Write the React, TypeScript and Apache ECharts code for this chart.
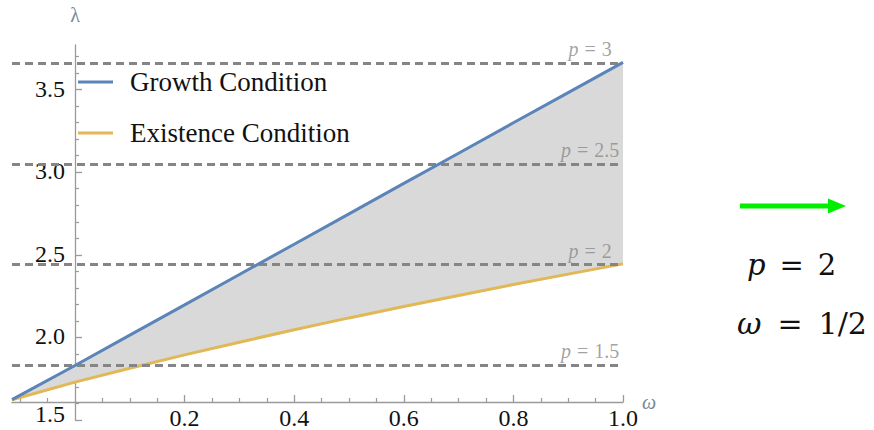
import React, { useEffect, useRef } from "react";
import * as echarts from "echarts";

// ---- data ----
const OMEGA = [-0.115, 0, 0.1, 0.2, 0.3, 0.4, 0.5, 0.6, 0.7, 0.8, 0.9, 1.0];
const GROWTH = [1.623, 1.83, 2.014, 2.197, 2.381, 2.564, 2.748, 2.932, 3.115, 3.299, 3.482, 3.665];
const EXISTENCE = [1.623, 1.729, 1.813, 1.894, 1.971, 2.046, 2.118, 2.187, 2.254, 2.32, 2.383, 2.445];

const P_VALUES = [1.5, 2, 2.5, 3];
const P_LAMBDA = [1.833, 2.439, 3.051, 3.664];

const X_MAJOR = [0.2, 0.4, 0.6, 0.8, 1.0];
const X_MINOR = [-0.1, -0.05, 0.05, 0.1, 0.15, 0.25, 0.3, 0.35, 0.45, 0.5, 0.55, 0.65, 0.7, 0.75, 0.85, 0.9, 0.95];
const Y_MAJOR = [1.5, 2.0, 2.5, 3.0, 3.5];
const Y_MINOR = [1.6, 1.7, 1.8, 1.9, 2.1, 2.2, 2.3, 2.4, 2.6, 2.7, 2.8, 2.9, 3.1, 3.2, 3.3, 3.4, 3.6, 3.7];

const LEGEND_NAMES = ["Growth Condition", "Existence Condition"];

const X_MIN = -0.115;
const X_MAX = 1.0;
const Y_MIN = 1.5;
const Y_MAX = 3.77;
const P_LABEL_OMEGA = 0.94;

const BLUE = "#5b84b8";
const YELLOW = "#e2b755";
const AXIS = "#9a9a9a";
const SERIF = "'Liberation Serif', 'Times New Roman', serif";
const MATH = "'DejaVu Serif', serif";

// plot geometry
const PLOT_LEFT = 12;
const PLOT_WIDTH = 611;
const PLOT_TOP = 45;
const PLOT_HEIGHT = 375;
const ZERO_X = PLOT_LEFT + ((0 - X_MIN) / (X_MAX - X_MIN)) * PLOT_WIDTH;

export default function App() {
  const ref = useRef<HTMLDivElement>(null);

  useEffect(() => {
    document.body.style.margin = "0";
    const chart = echarts.init(ref.current!, null, { renderer: "svg" });

    const growthData = OMEGA.map((w, i) => [w, GROWTH[i]]);
    const existData = OMEGA.map((w, i) => [w, EXISTENCE[i]]);

    const option: any = {
      animation: false,
      backgroundColor: "#ffffff",
      grid: [
        { left: PLOT_LEFT, top: PLOT_TOP, width: PLOT_WIDTH, height: PLOT_HEIGHT, containLabel: false, outerBoundsMode: "none" },
        { left: PLOT_LEFT, top: 300, width: PLOT_WIDTH, height: 102, containLabel: false, outerBoundsMode: "none" },
        { left: ZERO_X, top: PLOT_TOP, width: PLOT_LEFT + PLOT_WIDTH - ZERO_X, height: PLOT_HEIGHT, containLabel: false, outerBoundsMode: "none" },
      ],
      legend: {
        data: LEGEND_NAMES.map((n) => ({ name: n, icon: "rect" })),
        orient: "vertical",
        left: 78,
        top: 67,
        padding: 0,
        itemWidth: 35,
        itemHeight: 3,
        itemGap: 21,
        textStyle: {
          fontFamily: SERIF,
          fontSize: 27,
          color: "#111",
          lineHeight: 30,
          padding: [0, 0, 0, 12],
        },
      },
      xAxis: [
        { gridIndex: 0, type: "value", min: X_MIN, max: X_MAX, show: false, axisLine: { onZero: false } },
        {
          gridIndex: 1,
          type: "value",
          min: X_MIN,
          max: X_MAX,
          position: "bottom",
          name: "ω",
          nameLocation: "end",
          nameGap: 14,
          nameTextStyle: { fontFamily: SERIF, fontStyle: "italic", fontSize: 20, color: "#7a8699", padding: [0, 0, 6, 0] },
          axisLine: { onZero: false, lineStyle: { color: AXIS, width: 1.3 } },
          axisTick: { inside: true, length: 7, customValues: X_MAJOR, lineStyle: { color: AXIS, width: 1.3 } },
          axisLabel: {
            customValues: X_MAJOR,
            formatter: (v: number) => v.toFixed(1),
            fontFamily: SERIF,
            fontSize: 24,
            lineHeight: 20,
            color: "#111",
            margin: 6,
          },
          splitLine: { show: false },
        },
        {
          gridIndex: 1,
          type: "value",
          min: X_MIN,
          max: X_MAX,
          position: "bottom",
          axisLine: { show: false, onZero: false },
          axisTick: { inside: true, length: 4, customValues: X_MINOR, lineStyle: { color: AXIS, width: 1.2 } },
          axisLabel: { show: false },
          splitLine: { show: false },
        },
        { gridIndex: 2, type: "value", min: 0, max: 1, show: false, axisLine: { onZero: false } },
      ],
      yAxis: [
        { gridIndex: 0, type: "value", min: Y_MIN, max: Y_MAX, show: false, axisLine: { onZero: false } },
        { gridIndex: 1, type: "value", min: 0, max: 1, show: false, axisLine: { onZero: false } },
        {
          gridIndex: 2,
          type: "value",
          min: Y_MIN,
          max: Y_MAX,
          position: "left",
          name: "λ",
          nameLocation: "end",
          nameGap: 20,
          nameTextStyle: { fontFamily: SERIF, fontSize: 20, color: "#7a8699" },
          axisLine: { onZero: false, lineStyle: { color: AXIS, width: 1.3 } },
          axisTick: { inside: true, length: 7, customValues: Y_MAJOR, lineStyle: { color: AXIS, width: 1.3 } },
          axisLabel: {
            customValues: Y_MAJOR,
            formatter: (v: number) => (v === Y_MIN ? `{lo|${v.toFixed(1)}}` : v.toFixed(1)),
            fontFamily: SERIF,
            fontSize: 24,
            lineHeight: 18,
            padding: [0, 0, 2, 0],
            color: "#111",
            margin: 10,
            rich: {
              lo: { fontFamily: SERIF, fontSize: 24, lineHeight: 18, color: "#111", padding: [0, 0, 10, 0] },
            },
          },
          splitLine: { show: false },
        },
        {
          gridIndex: 2,
          type: "value",
          min: Y_MIN,
          max: Y_MAX,
          position: "left",
          axisLine: { show: false, onZero: false },
          axisTick: { inside: true, length: 4, customValues: Y_MINOR, lineStyle: { color: AXIS, width: 1.2 } },
          axisLabel: { show: false },
          splitLine: { show: false },
        },
      ],
      series: [
        {
          type: "custom",
          name: "band",
          xAxisIndex: 0,
          yAxisIndex: 0,
          z: 1,
          silent: true,
          data: [[0]],
          renderItem: (_params: any, api: any) => {
            const pts: number[][] = [];
            OMEGA.forEach((w, i) => pts.push(api.coord([w, GROWTH[i]])));
            for (let i = OMEGA.length - 1; i >= 0; i--) pts.push(api.coord([OMEGA[i], EXISTENCE[i]]));
            return {
              type: "polygon",
              shape: { points: pts },
              style: { fill: "#d9d9d9", stroke: "none" },
            };
          },
        },
        {
          type: "scatter",
          name: "levels",
          xAxisIndex: 0,
          yAxisIndex: 0,
          z: 3,
          symbolSize: 0,
          silent: true,
          data: P_LAMBDA.map((l) => [P_LABEL_OMEGA, l]),
          label: {
            show: true,
            position: "top",
            distance: 4,
            formatter: (p: any) => `{i|p}{e|=}{n|${P_VALUES[p.dataIndex]}}`,
            rich: {
              i: { fontFamily: SERIF, fontStyle: "italic", fontSize: 20, color: "#8a8a8a" },
              e: { fontFamily: SERIF, fontSize: 20, color: "#8a8a8a", padding: [0, 6, 0, 6] },
              n: { fontFamily: SERIF, fontSize: 20, color: "#8a8a8a" },
            },
          },
          markLine: {
            silent: true,
            symbol: "none",
            label: { show: false },
            lineStyle: { color: "#858585", width: 3, type: [8, 5] },
            data: P_LAMBDA.map((l) => ({ yAxis: l })),
          },
        },
        {
          type: "line",
          name: LEGEND_NAMES[0],
          xAxisIndex: 0,
          yAxisIndex: 0,
          z: 5,
          symbol: "none",
          data: growthData,
          color: BLUE,
          lineStyle: { color: BLUE, width: 3 },
        },
        {
          type: "line",
          name: LEGEND_NAMES[1],
          xAxisIndex: 0,
          yAxisIndex: 0,
          z: 4,
          symbol: "none",
          data: existData,
          color: YELLOW,
          lineStyle: { color: YELLOW, width: 3 },
        },
      ],
      graphic: [
        {
          type: "line",
          shape: { x1: 740, y1: 206, x2: 831, y2: 206 },
          style: { stroke: "#00ee00", lineWidth: 5 },
        },
        {
          type: "polygon",
          shape: { points: [[828, 198.5], [846, 206], [828, 213.5]] },
          style: { fill: "#00ee00" },
        },
        {
          type: "text",
          x: 747,
          y: 265,
          style: {
            text: "{i|p}{e|=}{n|2}",
            verticalAlign: "middle",
            rich: {
              i: { fontFamily: MATH, fontStyle: "italic", fontSize: 29, fill: "#111" },
              e: { fontFamily: MATH, fontSize: 29, fill: "#111", padding: [0, 14, 0, 14] },
              n: { fontFamily: MATH, fontSize: 29, fill: "#111" },
            },
          },
        },
        {
          type: "text",
          x: 737,
          y: 323,
          style: {
            text: "{i|ω}{e|=}{n|1/2}",
            verticalAlign: "middle",
            rich: {
              i: { fontFamily: MATH, fontStyle: "italic", fontSize: 30, fill: "#111" },
              e: { fontFamily: MATH, fontSize: 30, fill: "#111", padding: [0, 16, 0, 16] },
              n: { fontFamily: MATH, fontSize: 30, fill: "#111" },
            },
          },
        },
      ],
    };

    chart.setOption(option);
    return () => chart.dispose();
  }, []);

  return <div ref={ref} style={{ width: 874, height: 430 }} />;
}
